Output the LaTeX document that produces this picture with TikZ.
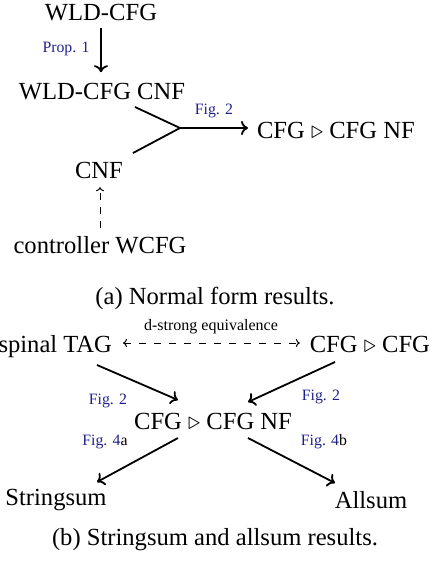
\documentclass[tikz,border=0pt]{standalone}
\usepackage{fontspec}
\setmainfont{Liberation Serif}
\usetikzlibrary{calc,arrows.meta}
\definecolor{figblue}{rgb}{0.13,0.13,0.55}
\tikzset{
  term/.style={inner sep=0pt, outer sep=0pt, font=\fontsize{24.6}{28}\selectfont},
  captxt/.style={inner sep=0pt, font=\fontsize{24.6}{28}\selectfont},
  lbl/.style={inner sep=0pt, font=\fontsize{15.8}{18}\selectfont, text=figblue},
  eqlbl/.style={inner sep=0pt, font=\fontsize{16}{18}\selectfont},
  arr/.style={line width=1.8pt, -{To[length=7pt,width=14pt]}},
  seg/.style={line width=1.8pt},
  darr/.style={line width=1pt, dash pattern=on 7pt off 7pt, -{To[length=4pt,width=8pt]}},
  ddarr/.style={line width=1pt, dash pattern=on 7pt off 8pt, {To[length=4pt,width=8pt]}-{To[length=4pt,width=8pt]}},
}
\newcommand{\tri}{\ensuremath{\triangleright}}
\begin{document}
\begin{tikzpicture}[x=1pt,y=-1pt]
\useasboundingbox (0,0) rectangle (432,562);
% ---------- (a)
\node[term, anchor=base] (n1) at (101,20) {WLD-CFG};
\node[term, anchor=base] (n2) at (102,99) {WLD-CFG CNF};
\node[term, anchor=base] (n3) at (99,178) {CNF};
\node[term, anchor=base west] (n4) at (257,138) {CFG \tri\ CFG NF};
\node[term, anchor=base] (n5) at (100,253) {controller WCFG};
\coordinate (j) at (180,128);
\node[captxt, anchor=base] (capA) at (215,304) {(a) Normal form results.};

\draw[arr, shorten <=8pt, shorten >=10.5pt] (n1.south) -- (n1.south |- n2.north);
\node[lbl] (p1) at (66,49) {Prop. 1};
\draw[seg] ($(n2.base)+(33,8)$) -- (j) -- ($(n3.base)+(34,-25)$);
\draw[arr, shorten >=9pt] (j) -- (j -| n4.west);
\node[lbl] (f2a) at (214,111) {Fig. 2};
\draw[darr, shorten <=8pt, shorten >=9pt] (n5.north) -- (n5.north |- n3.south);

% ---------- (b)
\node[term, anchor=base east] (b1) at (112,352) {spinal TAG};
\node[term, anchor=base east] (b2) at (430,352) {CFG \tri\ CFG};
\node[term, anchor=base] (b3) at (213,429) {CFG \tri\ CFG NF};
\node[term, anchor=base] (b4) at (56,505) {Stringsum};
\node[term, anchor=base] (b5) at (371,508) {Allsum};
\node[captxt, anchor=base] (capB) at (215,545) {(b) Stringsum and allsum results.};

\draw[ddarr] ($(b1.base east)+(11,-9)$) -- ($(b2.base west)+(-10,-9)$);
\node[eqlbl] (deq) at (211,327) {d-strong equivalence};
\draw[arr] ($(b1.base east)+(-15,13)$) -- ($(b3.base)+(-35,-29)$);
\draw[arr] ($(b2.base east)+(-95,10)$) -- ($(b3.base)+(35,-27)$);
\node[lbl] (f2l) at (108,401) {Fig. 2};
\node[lbl] (f2r) at (321,397) {Fig. 2};
\draw[arr] ($(b3.base)+(-35,9)$) -- ($(b4.base)+(41,-23)$);
\draw[arr] ($(b3.base)+(35,9)$) -- ($(b5.base)+(-36,-25)$);
\node[lbl] (f4a) at (105,442) {Fig. 4\textcolor{black}{a}};
\node[lbl] (f4b) at (324,442) {Fig. 4\textcolor{black}{b}};
\end{tikzpicture}
\end{document}
